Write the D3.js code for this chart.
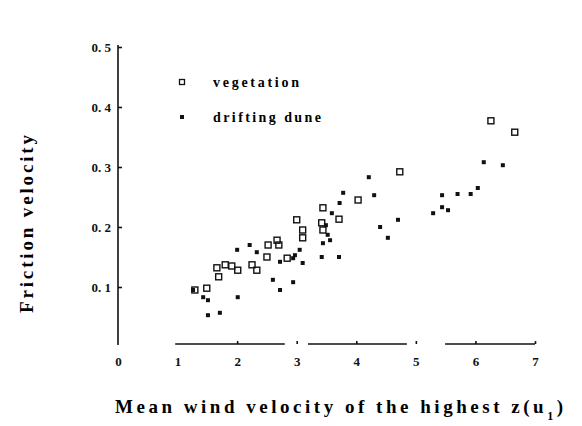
<!DOCTYPE html>
<html>
<head>
<meta charset="utf-8">
<script src="https://cdn.jsdelivr.net/npm/d3@7"></script>
<style>
  body { margin: 0; background: #fff; }
  svg { display: block; font-family: "Liberation Serif", "DejaVu Serif", serif; }
  .axis text { font-size: 13px; font-weight: bold; fill: #111; }
  .axis line, .axis path { stroke: #111; stroke-width: 1.6; }
</style>
</head>
<body>
<svg width="582" height="426"></svg>
<script>
// vegetation points [wind velocity, friction velocity]
let vegX = [1.29, 1.49, 1.69, 1.66, 1.80, 1.91, 2.01, 2.25, 2.33, 2.50, 2.52, 2.67, 2.70, 2.84, 3.00, 3.10, 3.10, 3.44, 3.42, 3.44, 3.71, 4.03, 4.73, 6.26, 6.66];
let vegY = [0.095, 0.098, 0.117, 0.132, 0.137, 0.135, 0.128, 0.137, 0.128, 0.150, 0.170, 0.178, 0.170, 0.148, 0.212, 0.195, 0.182, 0.232, 0.207, 0.195, 0.213, 0.245, 0.292, 0.377, 0.358];

// drifting dune points
let duneX = [1.26, 1.43, 1.51, 1.51, 1.71, 2.01, 2.00, 2.21, 2.33, 2.60, 2.72, 2.94, 2.72, 2.97, 3.05, 3.10, 2.94, 3.44, 3.56, 3.59, 3.72, 3.78, 4.21, 4.30, 3.42, 3.71, 4.40, 4.53, 4.70, 6.14, 6.46, 6.04, 5.92, 5.70, 5.44, 5.44, 5.54, 5.29, 3.49, 3.52];
let duneY = [0.095, 0.083, 0.078, 0.053, 0.057, 0.083, 0.162, 0.170, 0.158, 0.112, 0.095, 0.108, 0.142, 0.153, 0.162, 0.140, 0.148, 0.173, 0.178, 0.223, 0.240, 0.257, 0.283, 0.253, 0.150, 0.150, 0.200, 0.182, 0.212, 0.308, 0.303, 0.265, 0.255, 0.255, 0.253, 0.233, 0.228, 0.223, 0.203, 0.187];

let xTicks = [0, 1, 2, 3, 4, 5, 6, 7];
let yTicks = [0.1, 0.2, 0.3, 0.4, 0.5];
// visible pieces of the (broken) x axis line
let xSegments = [[0.96, 2.80], [3.19, 4.85], [5.49, 7.0]];
let legendItems = ["vegetation", "drifting dune"];

let svg = d3.select("svg");
let xScale = d3.scaleLinear().domain([0, 7]).range([118, 535]);
let yScale = d3.scaleLinear().domain([0, 0.5]).range([347, 47]);

// y axis
let yAxis = svg.append("g")
  .attr("class", "axis")
  .attr("transform", "translate(118,0)")
  .call(d3.axisRight(yScale).tickValues(yTicks).tickSize(4).tickSizeOuter(0)
    .tickFormat((d) => d3.format(".1f")(d).replace(".", ". ")))
  .attr("font-family", null);
yAxis.select(".domain").attr("d", `M0,${yScale(0.5) - 2}V${yScale(0) - 2}`);
yAxis.selectAll("text").attr("x", -7).attr("text-anchor", "end");

// x axis: ticks and labels, the line itself is drawn in pieces
let xAxis = svg.append("g")
  .attr("class", "axis")
  .attr("transform", "translate(0,344)")
  .call(d3.axisTop(xScale).tickValues(xTicks).tickSize(3).tickFormat(d3.format("d")))
  .attr("font-family", null);
xAxis.select(".domain").remove();
xAxis.selectAll(".tick").filter((d) => d === 0 || d === 1).select("line").remove();
xAxis.selectAll("text").attr("y", 13).attr("dy", "0.71em");

svg.append("g")
  .selectAll("line")
  .data(xSegments)
  .join("line")
  .attr("x1", (d) => xScale(d[0]))
  .attr("x2", (d) => xScale(d[1]))
  .attr("y1", 344)
  .attr("y2", 344)
  .attr("stroke", "#111")
  .attr("stroke-width", 1.6);

// points
let veg = vegX.map((x, i) => ({ x: x, y: vegY[i] }));
let dune = duneX.map((x, i) => ({ x: x, y: duneY[i] }));

svg.append("g")
  .selectAll("rect")
  .data(veg)
  .join("rect")
  .attr("x", (d) => xScale(d.x) - 3)
  .attr("y", (d) => yScale(d.y) - 3)
  .attr("width", 6)
  .attr("height", 6)
  .attr("fill", "none")
  .attr("stroke", "#111")
  .attr("stroke-width", 1.4);

svg.append("g")
  .selectAll("rect")
  .data(dune)
  .join("rect")
  .attr("x", (d) => xScale(d.x) - 2)
  .attr("y", (d) => yScale(d.y) - 2)
  .attr("width", 4)
  .attr("height", 4)
  .attr("fill", "#111");

// legend
let legend = svg.append("g")
  .selectAll("g")
  .data(legendItems)
  .join("g")
  .attr("transform", (d, i) => `translate(182,${82 + i * 35})`);

legend.filter((d, i) => i === 0).append("rect")
  .attr("x", -2.5).attr("y", -2.5).attr("width", 5).attr("height", 5)
  .attr("fill", "none").attr("stroke", "#111").attr("stroke-width", 1.3);
legend.filter((d, i) => i === 1).append("rect")
  .attr("x", -2).attr("y", -2).attr("width", 4).attr("height", 4)
  .attr("fill", "#111");
legend.append("text")
  .attr("x", 31)
  .attr("dy", "0.35em")
  .attr("textLength", (d, i) => (i === 0 ? 86 : 108))
  .attr("lengthAdjust", "spacing")
  .style("font-size", "14px")
  .style("font-weight", "bold")
  .text((d) => d);

// axis titles
svg.append("text")
  .attr("transform", "translate(33,224) rotate(-90)")
  .attr("text-anchor", "middle")
  .attr("textLength", 178)
  .attr("lengthAdjust", "spacing")
  .style("font-size", "19px")
  .style("font-weight", "bold")
  .text("Friction velocity");

svg.append("text")
  .attr("x", 115)
  .attr("y", 413)
  .attr("textLength", 448)
  .attr("lengthAdjust", "spacing")
  .style("font-size", "19px")
  .style("font-weight", "bold")
  .html("Mean wind velocity of the highest z(u<tspan baseline-shift='sub' font-size='12px'>1</tspan>)");
</script>
</body>
</html>
